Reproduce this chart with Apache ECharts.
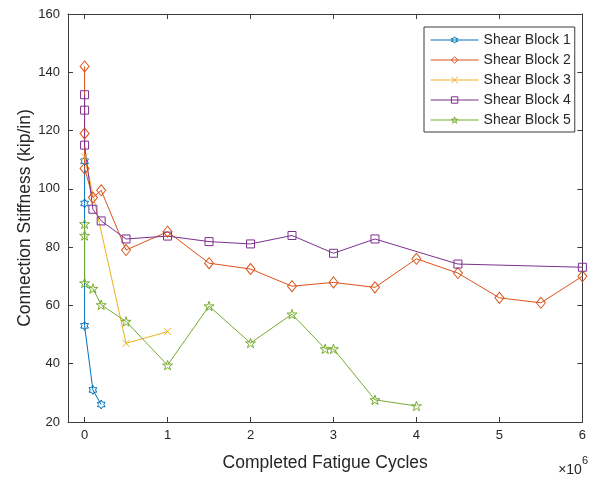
<!DOCTYPE html>
<html>
<head>
<meta charset="utf-8">
<style>
  html, body { margin: 0; padding: 0; background: #fff; }
  #chart { width: 589px; height: 477px; }
</style>
<script src="https://cdn.jsdelivr.net/npm/echarts@6/dist/echarts.min.js"></script>
</head>
<body>
<div id="chart"></div>
<script>
// Completed fatigue cycles and measured connection stiffness (kip/in) per shear block
const seriesNames = ['Shear Block 1', 'Shear Block 2', 'Shear Block 3', 'Shear Block 4', 'Shear Block 5'];

const cycles1 = [0, 0, 0, 1e5, 2e5];
const stiffness1 = [109.5, 95, 53, 31, 26];

const cycles2 = [0, 0, 0, 1e5, 2e5, 5e5, 1e6, 1.5e6, 2e6, 2.5e6, 3e6, 3.5e6, 4e6, 4.5e6, 5e6, 5.5e6, 6e6];
const stiffness2 = [142, 119, 107, 97, 99.5, 79, 85.3, 74.5, 72.5, 66.6, 67.9, 66.2, 76, 71.1, 62.6, 60.9, 70];

const cycles3 = [0, 5e5, 1e6];
const stiffness3 = [111, 47, 51];

const cycles4 = [0, 0, 0, 1e5, 2e5, 5e5, 1e6, 1.5e6, 2e6, 2.5e6, 3e6, 3.5e6, 4.5e6, 6e6];
const stiffness4 = [132.3, 127, 115, 93, 89, 82.8, 83.8, 81.9, 81.1, 84, 77.9, 82.8, 74.2, 73.1];

const cycles5 = [0, 0, 0, 1e5, 2e5, 5e5, 1e6, 1.5e6, 2e6, 2.5e6, 2.9e6, 3e6, 3.5e6, 4e6];
const stiffness5 = [88, 84, 67.7, 65.8, 60.2, 54.5, 39.5, 59.8, 47.1, 57, 45.1, 45.1, 27.6, 25.5];

const xTickValues = [0, 1e6, 2e6, 3e6, 4e6, 5e6, 6e6];

// Axis extents
const X_MIN = -2e5, X_MAX = 6e6;
const Y_MIN = 20, Y_MAX = 160, Y_STEP = 20;

const colors = ['#0072BD', '#D95319', '#EDB120', '#7E2F8E', '#77AC30'];

// Marker outlines
const hexagram = 'path://M0,-100L28.9,-50L86.6,-50L57.7,0L86.6,50L28.9,50L0,100L-28.9,50L-86.6,50L-57.7,0L-86.6,-50L-28.9,-50Z';
const pentagram = 'path://M0,-100L22.45,-30.9L95.1,-30.9L36.3,11.8L58.8,80.9L0,38.2L-58.8,80.9L-36.3,11.8L-95.1,-30.9L-22.45,-30.9Z';
const cross = 'path://M0,0L10,10M10,0L0,10';

const markers = [
  { symbol: hexagram, size: 9 },
  { symbol: 'diamond', size: [9, 11] },
  { symbol: cross, size: 7 },
  { symbol: 'rect', size: 8 },
  { symbol: pentagram, size: 10 }
];

const allCycles = [cycles1, cycles2, cycles3, cycles4, cycles5];
const allStiffness = [stiffness1, stiffness2, stiffness3, stiffness4, stiffness5];

const axisColor = '#3d3d3d';
const textColor = '#262626';
const fontFamily = 'Liberation Sans, Arial, Helvetica, sans-serif';

const hollow = c => ({ color: 'rgba(255,255,255,0)', borderColor: c, borderWidth: 1 });

const series = seriesNames.map((name, i) => ({
  name: name,
  type: 'line',
  xAxisIndex: 0,
  yAxisIndex: 0,
  data: allCycles[i].map((c, j) => [c, allStiffness[i][j]]),
  symbol: markers[i].symbol,
  symbolSize: markers[i].size,
  symbolKeepAspect: true,
  showAllSymbol: true,
  clip: true,
  lineStyle: { color: colors[i], width: 1 },
  itemStyle: hollow(colors[i]),
  emphasis: { disabled: true },
  animation: false
}));

const chart = echarts.init(document.getElementById('chart'), null, { renderer: 'canvas' });

chart.setOption({
  animation: false,
  backgroundColor: '#ffffff',
  grid: { left: 68, right: 2, top: 14, bottom: 52, containLabel: false },
  legend: {
    orient: 'vertical',
    left: 424,
    top: 27,
    padding: [6, 4, 5, 6],
    itemWidth: 48,
    itemHeight: 8,
    itemGap: 6,
    backgroundColor: '#ffffff',
    borderColor: axisColor,
    borderWidth: 1,
    textStyle: { fontSize: 14, color: textColor, fontFamily: fontFamily },
    data: seriesNames.map((n, i) => ({
      name: n,
      itemStyle: hollow(colors[i]),
      lineStyle: { color: colors[i], width: 1.2 }
    }))
  },
  xAxis: [
    {
      type: 'value',
      position: 'bottom',
      min: X_MIN,
      max: X_MAX,
      name: 'Completed Fatigue Cycles',
      nameLocation: 'middle',
      nameGap: 32,
      nameMoveOverlap: false,
      nameTextStyle: { fontSize: 17.5, color: textColor, fontFamily: fontFamily },
      axisLine: { show: true, onZero: false, lineStyle: { color: axisColor, width: 1 } },
      axisTick: { show: true, inside: true, length: 5, customValues: xTickValues, lineStyle: { color: axisColor } },
      axisLabel: {
        customValues: xTickValues,
        formatter: v => String(Math.round(v / 1e6)),
        margin: 7,
        fontSize: 13,
        color: textColor,
        fontFamily: fontFamily
      },
      splitLine: { show: false }
    },
    {
      type: 'value',
      position: 'top',
      min: X_MIN,
      max: X_MAX,
      axisLine: { show: true, onZero: false, lineStyle: { color: axisColor, width: 1 } },
      axisTick: { show: true, inside: true, length: 5, customValues: xTickValues, lineStyle: { color: axisColor } },
      axisLabel: { show: false },
      splitLine: { show: false }
    }
  ],
  yAxis: [
    {
      type: 'value',
      position: 'left',
      min: Y_MIN,
      max: Y_MAX,
      interval: Y_STEP,
      name: 'Connection Stiffness (kip/in)',
      nameLocation: 'middle',
      nameGap: 34,
      nameMoveOverlap: false,
      nameTextStyle: { fontSize: 17.5, color: textColor, fontFamily: fontFamily },
      axisLine: { show: true, onZero: false, lineStyle: { color: axisColor, width: 1 } },
      axisTick: { show: true, inside: true, length: 5, lineStyle: { color: axisColor } },
      axisLabel: { margin: 8, fontSize: 13, color: textColor, fontFamily: fontFamily },
      splitLine: { show: false }
    },
    {
      type: 'value',
      position: 'right',
      min: Y_MIN,
      max: Y_MAX,
      interval: Y_STEP,
      axisLine: { show: true, onZero: false, lineStyle: { color: axisColor, width: 1 } },
      axisTick: { show: true, inside: true, length: 5, lineStyle: { color: axisColor } },
      axisLabel: { show: false },
      splitLine: { show: false }
    }
  ],
  graphic: [
    {
      type: 'text',
      right: 1,
      top: 455,
      style: {
        text: '{m|×10}{e|6}',
        rich: {
          m: { fontSize: 14, fill: textColor, fontFamily: fontFamily, verticalAlign: 'bottom', lineHeight: 22 },
          e: { fontSize: 11, fill: textColor, fontFamily: fontFamily, verticalAlign: 'top', lineHeight: 22, padding: [0, 0, 8, 0] }
        }
      }
    }
  ],
  series: series
});
</script>
</body>
</html>
